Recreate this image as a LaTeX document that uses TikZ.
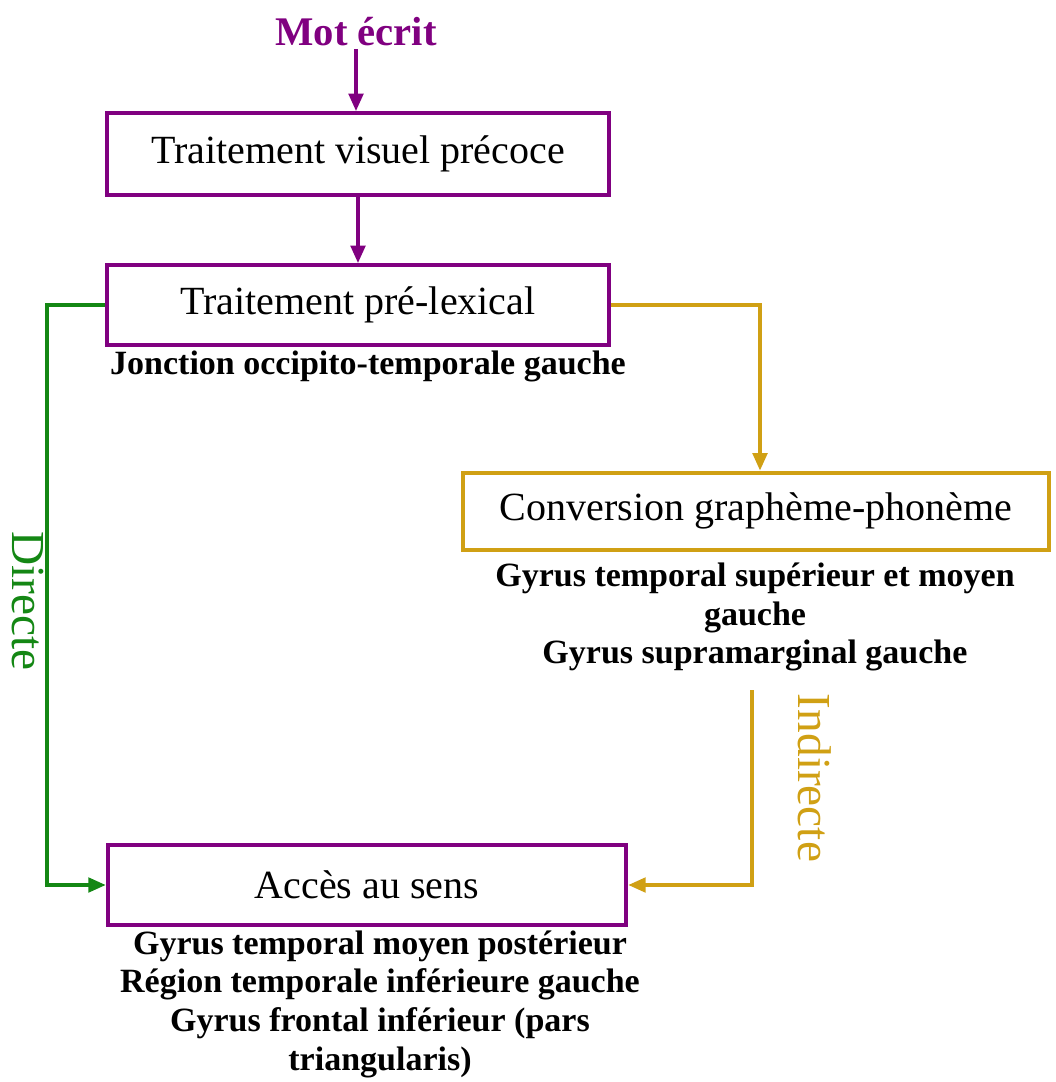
\documentclass[tikz,border=0pt]{standalone}
\usepackage{fontspec}
\setmainfont{Liberation Serif}
\usetikzlibrary{arrows.meta}
\definecolor{mpurple}{RGB}{128,0,128}
\definecolor{mgold}{RGB}{208,160,20}
\definecolor{mgreen}{RGB}{20,135,20}
\begin{document}
\begin{tikzpicture}[x=0.75pt,y=-0.75pt,
  stage/.style={draw=#1, line width=3pt, inner sep=0pt,
    font=\fontsize{30}{34}\selectfont},
  area/.style={inner sep=2pt, align=center,
    font=\bfseries\fontsize{25.5}{29}\selectfont},
  link/.style={draw=#1, line width=2.3pt,
    -{Triangle[length=13pt,width=11pt]}},
  way/.style={text=#1, rotate=-90, inner sep=0pt,
    font=\fontsize{35.5}{40}\selectfont}]
\useasboundingbox (0,0) rectangle (1056,1082);

% input word
\node[text=mpurple, font=\bfseries\fontsize{30.5}{34}\selectfont, inner sep=2pt]
  (mot) at (356,32) {Mot écrit};

% processing stages
\node[stage=mpurple, minimum width=376.5pt, minimum height=61.5pt]
  (visuel) at (358,154) {Traitement visuel précoce};
\node[stage=mpurple, minimum width=376.5pt, minimum height=60pt]
  (prelex) at (358,305) {Traitement pré-lexical};
\node[stage=mgold, minimum width=440pt, minimum height=57.75pt]
  (conv) at (756,511) {Conversion graphème-phonème};
\node[stage=mpurple, minimum width=389pt, minimum height=60pt]
  (sens) at (367,885) {Accès au sens};

% brain areas
\node[area] (jonction) at (368,366) {Jonction occipito-temporale gauche};
\node[area] (gyrconv) at (755,617)
  {Gyrus temporal supérieur et moyen\\gauche\\Gyrus supramarginal gauche};
\node[area] (gyrsens) at (380,1004)
  {Gyrus temporal moyen postérieur\\Région temporale inférieure gauche\\Gyrus frontal inférieur (pars\\triangularis)};

% main chain
\draw[link=mpurple] (mot.south) -- (mot.south |- visuel.north);
\draw[link=mpurple] (visuel.south) -- (prelex.north);

% direct route
\draw[link=mgreen] (prelex.west) -- ++(-58,0) |- (sens.west);
\node[way=mgreen] (directe) at (28,601) {Directe};

% indirect route
\draw[link=mgold] (prelex.east) -| ([xshift=3]conv.north);
\coordinate (indtop) at (752,690);
\draw[link=mgold] (indtop) |- (sens.east);
\node[way=mgold] (indirecte) at (815,778) {Indirecte};
\end{tikzpicture}
\end{document}
